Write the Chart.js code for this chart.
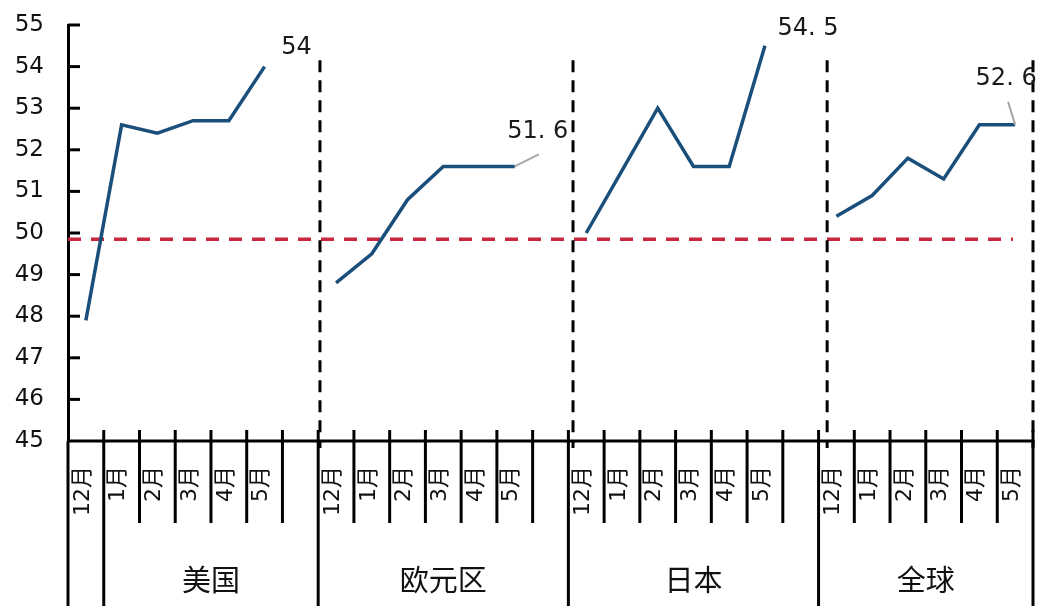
<!DOCTYPE html>
<html>
<head>
<meta charset="utf-8">
<script src="https://cdn.jsdelivr.net/npm/chart.js@4/dist/chart.umd.min.js"></script>
<style>
  html, body { margin: 0; padding: 0; background: #fff; }
  canvas { display: block; }
</style>
</head>
<body>
<canvas id="pmi" width="1038" height="606"></canvas>
<script>
// PMI readings by region, December to May
const months = ['12月', '1月', '2月', '3月', '4月', '5月'];
const regions = ['美国', '欧元区', '日本', '全球'];
const usValues = [47.9, 52.6, 52.4, 52.7, 52.7, 54.0];
const euroValues = [48.8, 49.5, 50.8, 51.6, 51.6, 51.6];
const japanValues = [50.0, 51.5, 53.0, 51.6, 51.6, 54.5];
const globalValues = [50.4, 50.9, 51.8, 51.3, 52.6, 52.6];
const yTicks = [45, 46, 47, 48, 49, 50, 51, 52, 53, 54, 55];
// boom/bust reference level
const thresholdValue = 49.85;
// region separators, in slot units of the month axis
const separatorSlots = [7.05, 14.13, 21.24, 27];
const separatorTop = 54.15;
const separatorBottom = 44.83;

const groupValues = [usValues, euroValues, japanValues, globalValues];

// One slot per month, with an empty slot after each region except the last
const slotLabels = [];
const slotValues = [];
const lastPointIndex = [];
groupValues.forEach((vals, g) => {
  months.forEach((m, i) => {
    slotLabels.push(m);
    slotValues.push(vals[i]);
  });
  lastPointIndex.push(slotLabels.length - 1);
  if (g < groupValues.length - 1) {
    slotLabels.push('');
    slotValues.push(null);
  }
});
const slotCount = slotLabels.length; // 27
// region cells: the first region cell begins after the opening 12月 slot
const groupBounds = [1, 7, 14, 21, 27];
const allBoundaries = [];
for (let k = 0; k <= slotCount; k++) allBoundaries.push(k);

const separatorDatasets = separatorSlots.map(s => ({
  type: 'line',
  xAxisID: 'xl',
  data: [{ x: s, y: separatorTop }, { x: s, y: separatorBottom }],
  borderColor: '#000',
  borderWidth: 3,
  borderDash: [12, 8],
  pointRadius: 0,
  clip: false,
  order: 1
}));

// Axis frame, category table and value labels
const framePlugin = {
  id: 'frame',
  afterDatasetsDraw(chart) {
    const { ctx, chartArea, scales } = chart;
    const y = scales.y;
    const xl = scales.xl;
    const x = scales.x;
    const axisY = y.getPixelForValue(45);
    const bottom = chart.height;
    ctx.save();
    ctx.strokeStyle = '#000';
    ctx.lineWidth = 3;
    ctx.lineCap = 'butt';

    // inward y ticks
    yTicks.forEach(v => {
      if (v === 45) return;
      const py = y.getPixelForValue(v);
      ctx.beginPath();
      ctx.moveTo(chartArea.left, py);
      ctx.lineTo(chartArea.left + 12, py);
      ctx.stroke();
    });

    // horizontal axis
    ctx.beginPath();
    ctx.moveTo(chartArea.left, axisY);
    ctx.lineTo(xl.getPixelForValue(slotCount) + 1.5, axisY);
    ctx.stroke();

    // left edge continues down through the table
    ctx.beginPath();
    ctx.moveTo(chartArea.left, axisY);
    ctx.lineTo(chartArea.left, bottom);
    ctx.stroke();

    // slot ticks and region separators
    allBoundaries.forEach(k => {
      if (k === 0) return;
      const px = xl.getPixelForValue(k);
      const isGroup = groupBounds.includes(k);
      ctx.beginPath();
      ctx.moveTo(px, axisY - 11);
      ctx.lineTo(px, isGroup ? bottom : axisY + 82);
      ctx.stroke();
    });

    // month labels, rotated
    ctx.fillStyle = '#111';
    ctx.font = '22px "DejaVu Sans", "Noto Sans CJK SC", sans-serif';
    ctx.textAlign = 'right';
    ctx.textBaseline = 'middle';
    slotLabels.forEach((lab, i) => {
      if (!lab) return;
      const cx = x.getPixelForValue(i) - 3;
      ctx.save();
      ctx.translate(cx, axisY + 25);
      ctx.rotate(-Math.PI / 2);
      ctx.fillText(lab, 0, 0);
      ctx.restore();
    });

    // region labels
    ctx.font = '29px "Noto Sans CJK SC", sans-serif';
    ctx.textAlign = 'center';
    ctx.textBaseline = 'middle';
    regions.forEach((r, g) => {
      const a = xl.getPixelForValue(groupBounds[g]);
      const b = xl.getPixelForValue(groupBounds[g + 1]);
      ctx.fillText(r, (a + b) / 2, axisY + 139);
    });

    // value labels at each region's latest month
    const meta = chart.getDatasetMeta(0);
    const labelOffsets = [
      { dx: 32, dy: -19, lead: null },
      { dx: 23, dy: -35, lead: { dx: 24, dy: -12 } },
      { dx: 43, dy: -17, lead: null },
      { dx: -9, dy: -46, lead: { dx: -7, dy: -23 } }
    ];
    ctx.font = '24px "DejaVu Sans", sans-serif';
    lastPointIndex.forEach((idx, g) => {
      const pt = meta.data[idx];
      const off = labelOffsets[g];
      if (off.lead) {
        ctx.strokeStyle = '#a6a6a6';
        ctx.lineWidth = 2;
        ctx.beginPath();
        ctx.moveTo(pt.x, pt.y);
        ctx.lineTo(pt.x + off.lead.dx, pt.y + off.lead.dy);
        ctx.stroke();
      }
      const v = slotValues[idx];
      const txt = Number.isInteger(v) ? String(v) : v.toFixed(1).replace('.', '. ');
      ctx.fillStyle = '#1a1a1a';
      ctx.fillText(txt, pt.x + off.dx, pt.y + off.dy);
    });
    ctx.restore();
  }
};

new Chart(document.getElementById('pmi'), {
  type: 'line',
  data: {
    labels: slotLabels,
    datasets: [
      {
        data: slotValues,
        xAxisID: 'x',
        borderColor: '#1b4f7b',
        borderWidth: 3.5,
        pointRadius: 0,
        tension: 0,
        spanGaps: false,
        borderJoinStyle: 'miter',
        order: 0
      },
      {
        xAxisID: 'xl',
        data: [{ x: 0, y: thresholdValue }, { x: 26.44, y: thresholdValue }],
        borderColor: '#c8283e',
        borderWidth: 3.5,
        borderDash: [13, 10],
        pointRadius: 0,
        order: 2
      },
      ...separatorDatasets
    ]
  },
  options: {
    responsive: false,
    animation: false,
    layout: { padding: { left: 0, top: 25, right: 5, bottom: 165 } },
    plugins: { legend: { display: false }, tooltip: { enabled: false } },
    scales: {
      x: { type: 'category', display: false, offset: true },
      xl: { type: 'linear', position: 'bottom', display: false, min: 0, max: slotCount },
      y: {
        min: 45,
        max: 55,
        afterFit(scale) {
          scale.width = 68;
          scale.paddingTop = 0;
          scale.paddingBottom = 0;
        },
        ticks: {
          stepSize: 1,
          padding: 24,
          color: '#111',
          font: { family: '"DejaVu Sans", sans-serif', size: 23 }
        },
        grid: { display: false, drawTicks: false },
        border: { display: true, width: 3, color: '#000' }
      }
    }
  },
  plugins: [framePlugin]
});
</script>
</body>
</html>
